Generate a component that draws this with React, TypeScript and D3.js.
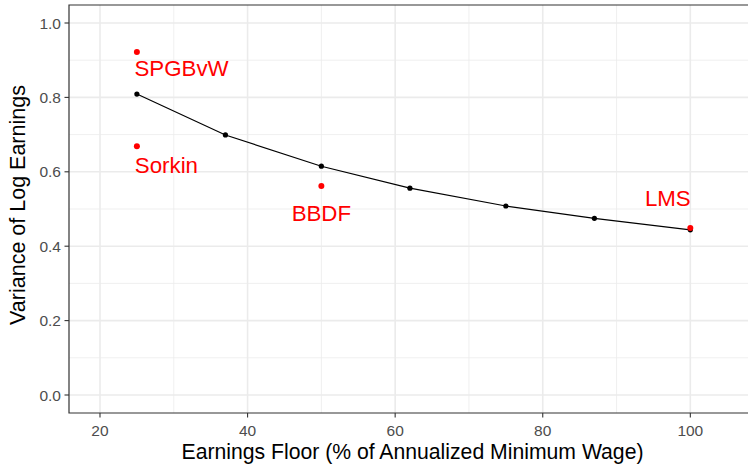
import React from 'react';
import * as d3 from 'd3';

const floors = [25, 37, 50, 62, 75, 87, 100];
const variances = [0.809, 0.699, 0.615, 0.556, 0.508, 0.475, 0.444];
const studyNames = ['SPGBvW', 'Sorkin', 'BBDF', 'LMS'];
const studyFloors = [25, 25, 50, 100];
const studyVariances = [0.922, 0.669, 0.562, 0.449];
const labelFloors = [31.05, 29.0, 50.0, 96.95];
const labelVariances = [0.879, 0.618, 0.489, 0.53];
const xTicks = [20, 40, 60, 80, 100];
const xMinor = [30, 50, 70, 90];
const yTicks = [0, 0.2, 0.4, 0.6, 0.8, 1.0];
const yMinor = [0.1, 0.3, 0.5, 0.7, 0.9];

const W = 748, H = 473;
const P = { left: 69, top: 5, right: 756, bottom: 413 };
const FONT = '"Liberation Sans", Arial, sans-serif';

export default function App() {
  const x = d3.scaleLinear().domain([15.8, 108.9]).range([P.left, P.right]);
  const y = d3.scaleLinear().domain([-0.0484, 1.0484]).range([P.bottom, P.top]);
  const line = d3.line<number>().x((_, i) => x(floors[i])).y((d) => y(d));
  const fmt = (v: number) => v.toFixed(1);
  return (
    <svg width={W} height={H} style={{ position: 'absolute', left: 0, top: 0, background: '#fff' }} fontFamily={FONT}>
      <defs>
        <clipPath id="panel"><rect x={P.left} y={P.top} width={P.right - P.left} height={P.bottom - P.top} /></clipPath>
      </defs>
      <rect x={0} y={0} width={W} height={H} fill="#fff" />
      <g clipPath="url(#panel)">
        {xMinor.map((t) => <line key={'xm' + t} x1={x(t)} x2={x(t)} y1={P.top} y2={P.bottom} stroke="#EBEBEB" strokeWidth={0.8} />)}
        {yMinor.map((t) => <line key={'ym' + t} y1={y(t)} y2={y(t)} x1={P.left} x2={P.right} stroke="#EBEBEB" strokeWidth={0.8} />)}
        {xTicks.map((t) => <line key={'xg' + t} x1={x(t)} x2={x(t)} y1={P.top} y2={P.bottom} stroke="#EBEBEB" strokeWidth={1.6} />)}
        {yTicks.map((t) => <line key={'yg' + t} y1={y(t)} y2={y(t)} x1={P.left} x2={P.right} stroke="#EBEBEB" strokeWidth={1.6} />)}
        <path d={line(variances) || ''} fill="none" stroke="#000" strokeWidth={1.2} />
        {variances.map((v, i) => <circle key={'p' + i} cx={x(floors[i])} cy={y(v)} r={2.6} fill="#000" />)}
        {studyVariances.map((v, i) => <circle key={'s' + i} cx={x(studyFloors[i])} cy={y(v)} r={3} fill="#FF0000" />)}
        {studyNames.map((n, i) => (
          <text key={'l' + n} x={x(labelFloors[i])} y={y(labelVariances[i])} dy="0.36em" textAnchor="middle" fontSize={22.3} fill="#FF0000">{n}</text>
        ))}
      </g>
      <path d={`M${P.right + 2},${P.top}H${P.left}V${P.bottom}H${P.right + 2}`} fill="none" stroke="#333333" strokeWidth={1.2} />
      {yTicks.map((t) => (
        <g key={'yt' + t}>
          <line x1={P.left - 4.5} x2={P.left} y1={y(t)} y2={y(t)} stroke="#333333" strokeWidth={1.1} />
          <text x={P.left - 8} y={y(t)} dy="0.36em" textAnchor="end" fontSize={15.5} fill="#4D4D4D">{fmt(t)}</text>
        </g>
      ))}
      {xTicks.map((t) => (
        <g key={'xt' + t}>
          <line x1={x(t)} x2={x(t)} y1={P.bottom} y2={P.bottom + 4.5} stroke="#333333" strokeWidth={1.1} />
          <text x={x(t)} y={P.bottom + 22.5} textAnchor="middle" fontSize={15.5} fill="#4D4D4D">{t}</text>
        </g>
      ))}
      <text x={412.5} y={459} textAnchor="middle" fontSize={21.2} fill="#000">Earnings Floor (% of Annualized Minimum Wage)</text>
      <text transform={`translate(25,${(P.top + P.bottom) / 2 - 4}) rotate(-90)`} textAnchor="middle" fontSize={21.5} fill="#000">Variance of Log Earnings</text>
    </svg>
  );
}
